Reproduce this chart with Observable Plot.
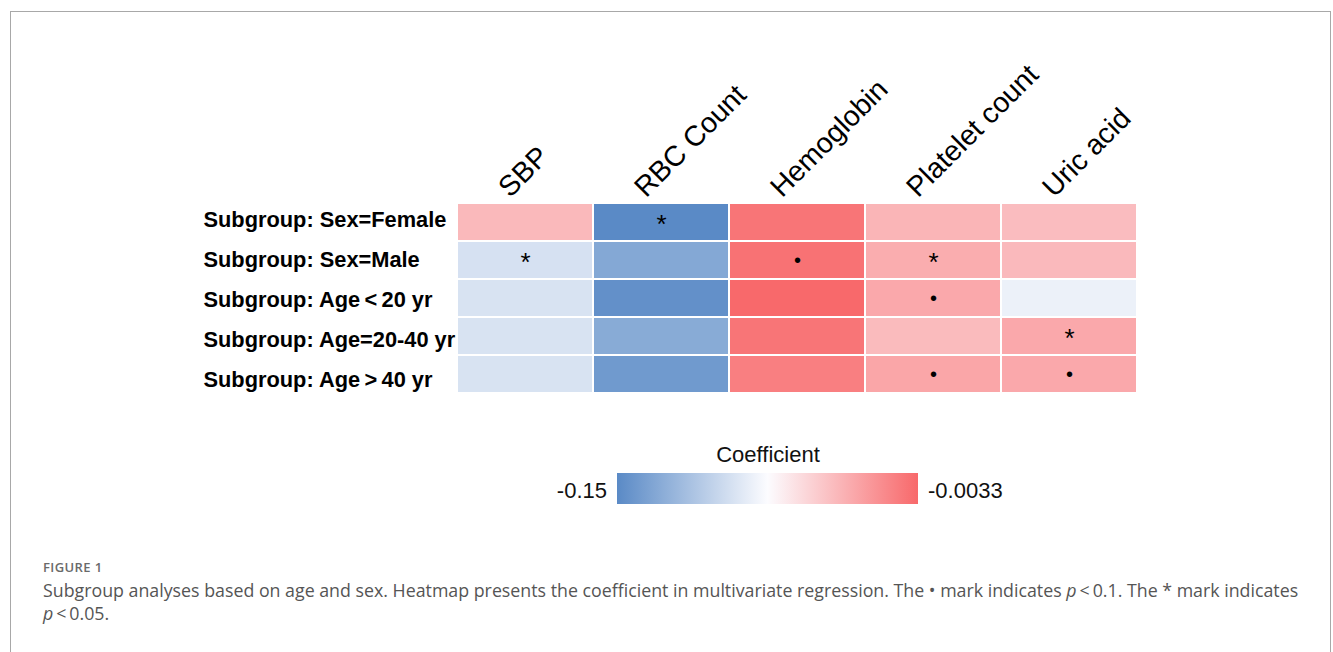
<!DOCTYPE html>
<html>
<head>
<meta charset="utf-8">
<script src="https://cdn.jsdelivr.net/npm/d3@7"></script>
<script src="https://cdn.jsdelivr.net/npm/@observablehq/plot@0.6"></script>
<style>
  html, body { margin:0; padding:0; background:#fff; }
  #page { position:relative; width:1333px; height:652px; overflow:hidden; font-family:"Liberation Sans", Arial, sans-serif; }
  #frame { position:absolute; left:10px; top:11px; width:1321px; height:700px; border:1px solid #a8a8a8; box-sizing:border-box; }
  #chart, #labels { position:absolute; left:0; top:0; }
  .leg { position:absolute; font-size:22px; color:#111; line-height:1; white-space:nowrap; }
  #legTitle { left:668px; width:200px; text-align:center; top:444px; }
  #legMin { right:726px; top:480px; }
  #legMax { left:928px; top:480px; }
  #legBar { position:absolute; left:617px; top:473px; width:301px; height:31px; }
  #figlabel { position:absolute; left:43px; top:558px; font-family:"Open Sans", sans-serif; font-weight:600; font-size:13px; color:#6a6a6a; letter-spacing:0.4px; }
  #caption { position:absolute; left:43px; top:579px; font-family:"Open Sans", sans-serif; font-size:16px; line-height:23px; color:#555; white-space:nowrap; }
</style>
</head>
<body>
<div id="page">
  <div id="frame"></div>
  <div id="chart"></div>
  <div id="labels"></div>
  <div class="leg" id="legTitle">Coefficient</div>
  <div class="leg" id="legMin"></div>
  <div id="legBar"></div>
  <div class="leg" id="legMax"></div>
  <div id="figlabel">FIGURE 1</div>
  <div id="caption"><span id="line1">Subgroup analyses based on age and sex. Heatmap presents the coefficient in multivariate regression. The • mark indicates <i>p</i>&#8201;&lt;&#8201;0.1. The * mark indicates</span><br><span><i>p</i>&#8201;&lt;&#8201;0.05.</span></div>
</div>
<script>
// ---- data ----
const columns = ["SBP", "RBC Count", "Hemoglobin", "Platelet count", "Uric acid"];
const rows = [
  "Subgroup: Sex=Female",
  "Subgroup: Sex=Male",
  "Subgroup: Age\u2009<\u200920 yr",
  "Subgroup: Age=20-40 yr",
  "Subgroup: Age\u2009>\u200940 yr"
];
// coefficients per column, one value per row (top to bottom)
const sbp        = [-0.043, -0.094, -0.093, -0.093, -0.093];
const rbcCount   = [-0.150, -0.131, -0.146, -0.129, -0.140];
const hemoglobin = [-0.0092, -0.0077, -0.0033, -0.0092, -0.0143];
const platelet   = [-0.041, -0.037, -0.0348, -0.044, -0.0337];
const uricAcid   = [-0.0448, -0.0432, -0.084, -0.0348, -0.0348];
// significance marks per column ("*" p<0.05, "•" p<0.1, "" none)
const sbpSig        = ["", "*", "", "", ""];
const rbcSig        = ["*", "", "", "", ""];
const hemoglobinSig = ["", "•", "", "", ""];
const plateletSig   = ["", "*", "•", "", "•"];
const uricSig       = ["", "", "", "*", "•"];
const legendMin = -0.15;
const legendMax = -0.0033;
const legendLabels = ["-0.15", "-0.0033"];

const valuesByCol = [sbp, rbcCount, hemoglobin, platelet, uricAcid];
const sigByCol = [sbpSig, rbcSig, hemoglobinSig, plateletSig, uricSig];

const data = [];
columns.forEach((c, j) => rows.forEach((r, i) => {
  data.push({col: c, row: r, value: valuesByCol[j][i], sig: sigByCol[j][i]});
}));

const colors = ["#5A8AC6", "#FCFCFF", "#F8696B"];
const mid = (legendMin + legendMax) / 2;
const font = "'Liberation Sans', Arial, sans-serif";

const chart = Plot.plot({
  width: 1333,
  height: 400,
  marginTop: 202,
  marginBottom: 7,
  marginLeft: 457,
  marginRight: 196,
  style: {fontFamily: font, color: "#000", background: "transparent"},
  x: {domain: columns, padding: 0, axis: null},
  y: {domain: rows, padding: 0, axis: null},
  color: {type: "linear", domain: [legendMin, mid, legendMax], range: colors, interpolate: "rgb"},
  marks: [
    Plot.cell(data, {x: "col", y: "row", fill: "value", inset: 1}),
    Plot.text(data.filter(d => d.sig === "*"), {x: "col", y: "row", text: "sig", fontSize: 26, dy: 2.5, fill: "#000"}),
    Plot.text(data.filter(d => d.sig === "•"), {x: "col", y: "row", text: "sig", fontSize: 20, dy: 0, fill: "#000"}),
    Plot.text(columns, {x: d => d, text: d => d, frameAnchor: "top", rotate: -45, textAnchor: "start", lineAnchor: "bottom", dx: -15.5, dy: -4, fontSize: 28.5, fill: "#000"})
  ]
});
document.getElementById("chart").appendChild(chart);

// row labels (typeset on a slightly wider row pitch, as in the original)
const labels = Plot.plot({
  width: 1333,
  height: 410,
  marginTop: 197.75,
  marginBottom: 7.75,
  marginLeft: 457,
  marginRight: 196,
  style: {fontFamily: font, color: "#000", background: "transparent"},
  x: {domain: columns, axis: null},
  y: {type: "band", domain: rows, padding: 0},
  marks: [
    Plot.axisY({anchor: "left", tickSize: 0, tickPadding: 0, textAnchor: "start", dx: -254, fontSize: 21.8, fontWeight: "bold", fill: "#000", label: null})
  ]
});
document.getElementById("labels").appendChild(labels);

// legend
const scale = chart.scale("color");
document.getElementById("legBar").style.background =
  `linear-gradient(to right, ${scale.range[0]}, ${scale.range[1]}, ${scale.range[2]})`;
document.getElementById("legMin").textContent = legendLabels[0];
document.getElementById("legMax").textContent = legendLabels[1];

// fit caption width
const l1 = document.getElementById("line1");
const w = l1.getBoundingClientRect().width;
const target = 1256;
document.getElementById("caption").style.fontSize = (16 * target / w) + "px";
</script>
</body>
</html>
